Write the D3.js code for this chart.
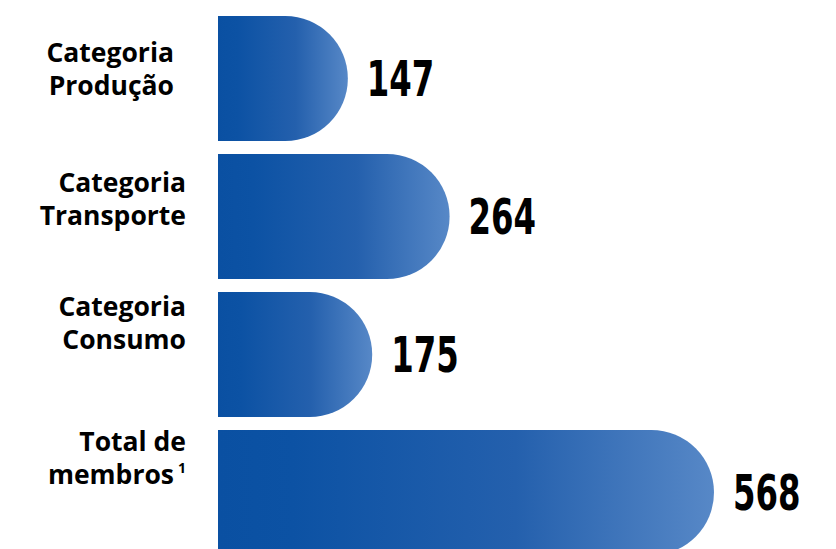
<!DOCTYPE html>
<html>
<head>
<meta charset="utf-8">
<script src="https://cdn.jsdelivr.net/npm/d3@7"></script>
<style>
    html, body { margin: 0; padding: 0; background: #fff; overflow: hidden; }
    .label { font-family: "Open Sans", sans-serif; font-weight: 700; font-size: 26.5px; fill: #000; }
    .value { font-family: "DejaVu Sans", sans-serif; font-weight: 700; font-size: 49px; fill: #000; }
</style>
</head>
<body>
<div id="chart"></div>
<script>
// data
const categories = ["Produção", "Transporte", "Consumo", "Total"];
const labelLines = [
    ["Categoria", "Produção"],
    ["Categoria", "Transporte"],
    ["Categoria", "Consumo"],
    ["Total de", "membros"]
];
const values = [147, 264, 175, 568];

// layout tweaks for the label blocks (first baseline relative to bar centre, right edge)
const labelDy = [-17, -25, -38, -41];
const labelRight = [174, 186, 186, 186];

let width = 836, height = 549;
let margin = {top: 16, left: 218};

let svg = d3.select("#chart").append("svg")
    .attr("width", width)
    .attr("height", height);

// gradient for bars
let grad = svg.append("defs").append("linearGradient")
    .attr("id", "barGrad")
    .attr("x1", "0%").attr("x2", "100%")
    .attr("y1", "0%").attr("y2", "0%");
grad.append("stop").attr("offset", "0%").attr("stop-color", "#0a50a2");
grad.append("stop").attr("offset", "15%").attr("stop-color", "#0c52a4");
grad.append("stop").attr("offset", "60%").attr("stop-color", "#2460ad");
grad.append("stop").attr("offset", "100%").attr("stop-color", "#5788c7");

// scales
let x = d3.scaleLinear().domain([0, 568]).range([2, 496]);
let y = d3.scaleBand().domain(categories).range([0, 539]).paddingInner(0.094).paddingOuter(0);

let g = svg.append("g")
    .attr("transform", `translate(${margin.left},${margin.top})`);

// bar with rounded right end
function barPath(w, h) {
    let r = h / 2;
    return `M0,0H${w - r}A${r},${r} 0 0 1 ${w - r},${h}H0Z`;
}

g.selectAll(".bar")
    .data(values)
    .enter().append("path")
    .attr("class", "bar")
    .attr("transform", (d, i) => `translate(0,${y(categories[i])})`)
    .attr("d", d => barPath(x(d), y.bandwidth()))
    .attr("fill", "url(#barGrad)");

// value labels (squeezed to look condensed)
g.selectAll(".value")
    .data(values)
    .enter().append("text")
    .attr("class", "value")
    .attr("transform", (d, i) => `translate(${x(d) + 19},${y(categories[i]) + y.bandwidth() / 2}) scale(0.66,1)`)
    .attr("dy", "0.36em")
    .text(d => d);

// category labels
let labels = svg.selectAll(".label")
    .data(labelLines)
    .enter().append("text")
    .attr("class", "label")
    .attr("text-anchor", "end")
    .attr("y", (d, i) => margin.top + y(categories[i]) + y.bandwidth() / 2 + labelDy[i]);

labels.each(function(lines, i) {
    let t = d3.select(this);
    lines.forEach((line, j) => {
        t.append("tspan")
            .attr("x", labelRight[i] - (i === 3 && j === 1 ? 12 : 0))
            .attr("dy", j === 0 ? 0 : 33)
            .text(line);
    });
    if (i === 3) {
        t.append("tspan")
            .attr("x", labelRight[i])
            .attr("dy", -11)
            .style("font-size", "14px")
            .text("1");
    }
});
</script>
</body>
</html>
